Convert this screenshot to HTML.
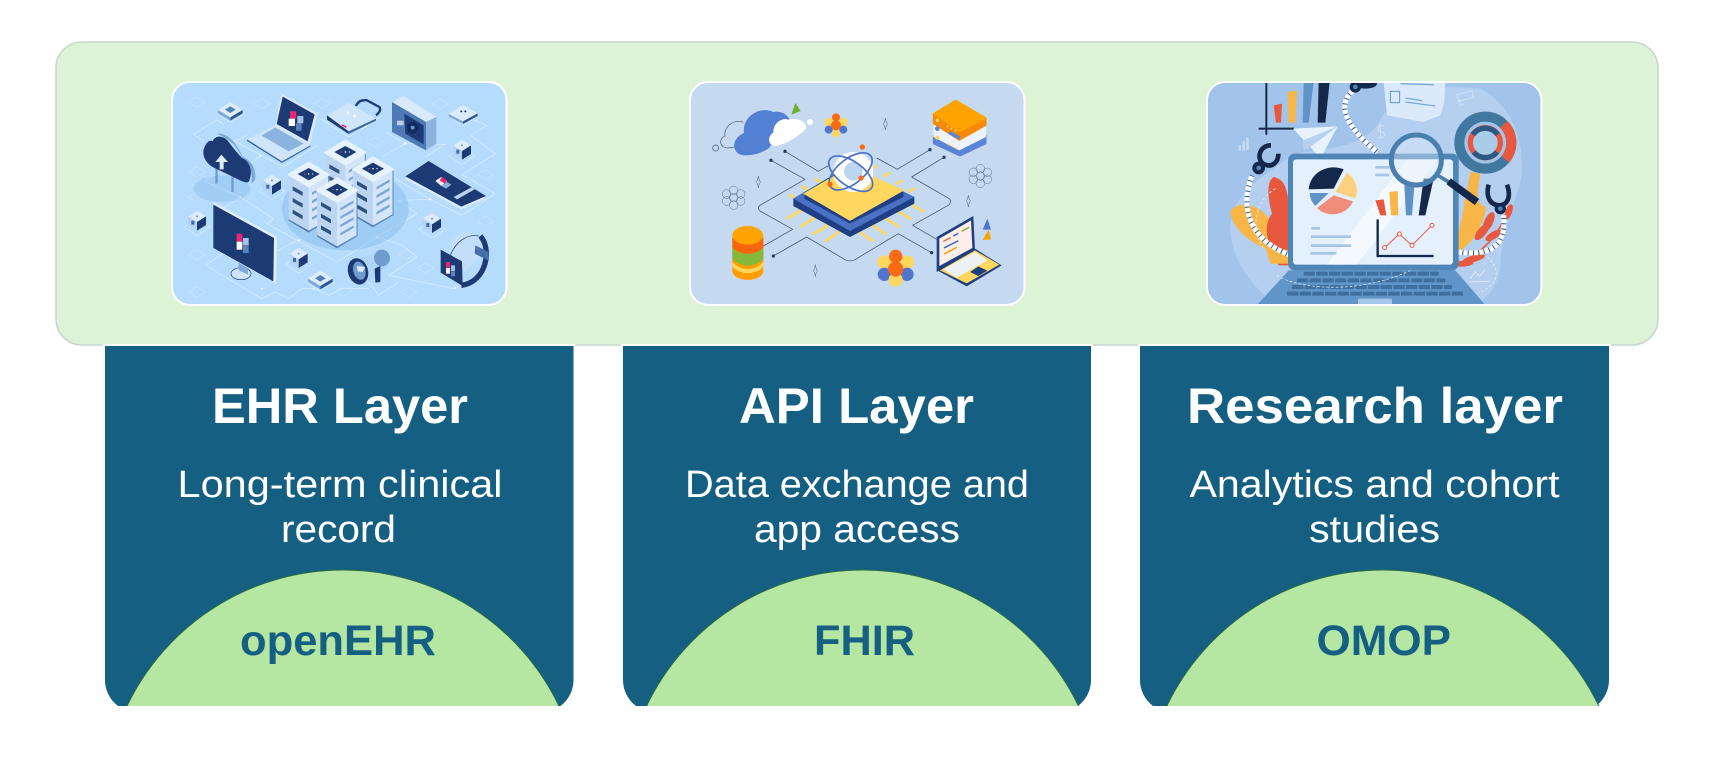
<!DOCTYPE html>
<html><head><meta charset="utf-8"><style>
html,body{margin:0;padding:0;background:#fff;width:1716px;height:764px;overflow:hidden}
svg{display:block}
text{font-family:"Liberation Sans",sans-serif}
.soft{filter:blur(.45px)}
</style></head><body>
<svg width="1716" height="764" viewBox="0 0 1716 764" xmlns="http://www.w3.org/2000/svg">
<defs>
<clipPath id="c1"><rect x="172" y="82" width="334.500" height="223" rx="18"/></clipPath>
<clipPath id="c2"><rect x="690" y="82" width="334.500" height="223" rx="18"/></clipPath>
<clipPath id="c3"><rect x="1207" y="82" width="334.500" height="223" rx="18"/></clipPath>
<g id="tower">
<polygon points="-60,42 0,75 0,212 -60,178" fill="#bcd6f2"/>
<polygon points="0,75 60,42 60,178 0,212" fill="#d3e6f9"/>
<polygon points="0,208 60,174 60,178 0,214" fill="#5f88bd"/>
<polygon points="-60,174 0,208 0,214 -60,178" fill="#4f78b0"/>
<line x1="60" y1="42" x2="60" y2="178" stroke="#5f88bd" stroke-width="3"/>
<polygon points="-60,40 0,4 60,40 0,75" fill="#e6f2fc" stroke="#e6f2fc" stroke-width="6" stroke-linejoin="round"/>
<polygon points="-33,38 0,20 33,38 0,57" fill="#1c3a73"/>
<g fill="#ea5a8a"><circle cx="-12" cy="38" r="2"/></g><g fill="#dbeafa"><circle cx="0" cy="38" r="2.500"/><circle cx="12" cy="38" r="2"/></g>
<g fill="#31527f"><polygon points="-48,75 -18,92 -18,104 -48,87"/><polygon points="-48,110 -18,127 -18,139 -48,122"/><polygon points="-48,145 -18,162 -18,174 -48,157"/></g>
<g fill="#7fa6d3"><polygon points="10,93 50,70 50,78 10,101"/><polygon points="10,118 50,95 50,103 10,126"/><polygon points="10,143 50,120 50,128 10,151"/><polygon points="10,168 50,145 50,153 10,176"/></g>
</g>
<g id="cube">
<polyline points="-40,22 0,48 40,22 0,-4 -40,22" fill="none" stroke="#e8f4ff" stroke-width="2" opacity=".65"/>
<polygon points="-27,-10 0,-27 27,-10 0,7" fill="#dcecfb"/>
<polygon points="-27,-10 0,7 0,33 -27,16" fill="#b6d3f1"/>
<polygon points="0,7 27,-10 27,16 0,33" fill="#1c3a73"/>
<rect x="-17" y="3" width="9" height="12" fill="#3f6aa5"/>
<circle cx="0" cy="-10" r="3" fill="#6e98c9"/>
</g>
<g id="chip">
<polyline points="-45,8 0,36 45,8" fill="none" stroke="#e8f4ff" stroke-width="2" opacity=".65"/>
<polygon points="-37,0 0,-24 37,0 0,22" fill="#dcecfb"/>
<polygon points="-37,0 0,22 0,32 -37,10" fill="#7ea8d8"/>
<polygon points="37,0 0,22 0,32 37,10" fill="#2f5590"/>
<polygon points="-16,-1 0,-11 16,-1 0,9" fill="#4f7fb9"/>
</g>
<g id="flow" fill="none" stroke="#41566f" stroke-width="1.200">
<circle cx="0" cy="-20" r="13"/><circle cx="21" cy="-9" r="13"/><circle cx="21" cy="12" r="13"/><circle cx="0" cy="24" r="13"/><circle cx="-21" cy="12" r="13"/><circle cx="-21" cy="-9" r="13"/><circle cx="0" cy="2" r="13"/>
</g>
<path id="spark" d="M0,-18 Q2,-3 7,0 Q2,3 0,18 Q-2,3 -7,0 Q-2,-3 0,-18Z" fill="none" stroke="#41566f" stroke-width="1.500"/>
</defs>

<!-- top panel -->
<rect x="56" y="42" width="1602" height="303" rx="26" fill="#ddf3d6" stroke="#c9d6cf" stroke-width="1.600"/>

<!-- image 1 -->
<g clip-path="url(#c1)"><rect x="172" y="82" width="335" height="223" fill="#b5dcfd"/>
<g class="soft" transform="translate(172 82) scale(.33333)">
<g fill="none" stroke="#eaf5ff" stroke-width="2" opacity=".8">
<polyline points="65,157 135,113 155,128"/><polyline points="65,157 97,178"/>
<polyline points="190,178 335,255 435,190"/><polyline points="190,178 225,160"/><polyline points="265,222 225,252"/>
<polyline points="97,298 205,345 145,385"/><polyline points="97,298 130,280"/>
<polyline points="205,345 305,410 285,425 495,540 615,465 735,395 680,355 775,352 870,400 970,335 870,278 970,215 895,160 945,130 898,112"/>
<polyline points="670,290 775,352"/>
<polyline points="640,150 700,185 820,187 760,225"/><polyline points="700,185 630,225"/>
<polyline points="445,110 530,165 632,100"/>
<polyline points="100,550 270,650 310,630 350,650 390,620 425,620 470,640 510,620 590,620"/>
<polyline points="100,550 160,510"/>
<polyline points="615,465 690,490 735,525 650,580 845,620 950,570"/>
<polyline points="590,600 620,640 680,600"/>
<polyline points="375,475 310,510 285,495"/>
<g stroke-width="1.500" opacity=".7">
<polygon points="48,60 75,45 100,60 75,75"/><polygon points="245,65 270,50 295,65 270,80"/><polygon points="425,65 450,50 475,65 450,80"/><polygon points="780,65 805,50 830,65 805,80"/>
<polygon points="48,270 75,255 100,270 75,285"/><polygon points="48,345 75,330 100,345 75,360"/><polygon points="48,518 75,503 100,518 75,533"/><polygon points="48,630 75,615 100,630 75,645"/>
<polygon points="915,278 940,263 965,278 940,293"/><polygon points="915,418 940,403 965,418 940,433"/><polygon points="680,518 705,503 730,518 705,533"/><polygon points="735,558 760,543 785,558 760,573"/>
<polygon points="490,628 515,613 540,628 515,643"/><polygon points="685,630 710,615 735,630 710,645"/><polygon points="585,180 610,165 635,180 610,195"/>
</g></g>
<g fill="#fff"><circle cx="265" cy="222" r="3"/><circle cx="205" cy="345" r="3"/><circle cx="380" cy="475" r="3"/><circle cx="615" cy="465" r="3"/><circle cx="775" cy="352" r="3"/><circle cx="700" cy="185" r="3"/><circle cx="270" cy="620" r="3"/><circle cx="425" cy="620" r="3"/><circle cx="850" cy="618" r="3"/><circle cx="582" cy="133" r="3"/></g>
<ellipse cx="150" cy="320" rx="85" ry="40" fill="#86b8e8" opacity=".4"/>
<ellipse cx="520" cy="380" rx="190" ry="125" fill="#86b8e8" opacity=".45"/>
<use href="#chip" x="175" y="84"/><use href="#chip" x="445" y="590"/>
<g transform="translate(873 92)"><polyline points="-45,10 0,38 45,10" fill="none" stroke="#e8f4ff" stroke-width="2" opacity=".65"/><polygon points="-43,4 0,-22 44,2 0,26" fill="#dcecfb"/><polygon points="-43,4 0,26 0,34 -43,12" fill="#7ea8d8"/><polygon points="44,2 0,26 0,34 44,10" fill="#2f5590"/><circle cx="-5" cy="-4" r="3" fill="#1c3a73"/><circle cx="7" cy="-4" r="3" fill="#1c3a73"/></g>
<use href="#cube" x="870" y="200"/><use href="#cube" x="300" y="305"/><use href="#cube" x="75" y="413"/><use href="#cube" x="780" y="420"/><use href="#cube" x="380" y="525"/>
<!-- laptop -->
<polygon points="328,35 437,95 413,187 310,130" fill="#dbeafa"/>
<polygon points="332,44 428,97 407,178 314,126" fill="#1c3a73"/>
<rect x="354" y="88" width="19" height="22" fill="#ea2472"/><rect x="376" y="102" width="18" height="22" fill="#a4c3e4"/><rect x="350" y="110" width="19" height="22" fill="#fff"/><rect x="372" y="124" width="17" height="22" fill="#5b84bd"/>
<polygon points="225,172 310,130 415,190 330,238" fill="#cfe5fa"/>
<polygon points="268,160 310,137 395,185 350,208" fill="#8bb3df"/>
<polygon points="225,172 330,238 415,190 415,194 330,243 225,177" fill="#3e669f"/>
<!-- lock -->
<path d="M552,72 Q560,52 585,55 L622,75 Q630,85 612,100" fill="none" stroke="#1c3a73" stroke-width="7"/>
<polygon points="465,100 530,62 612,110 530,148" fill="#cfe5fa"/>
<polygon points="465,100 530,148 530,156 465,113" fill="#1c3a73"/>
<polygon points="530,148 612,110 612,116 530,156" fill="#3e669f"/>
<rect x="510" y="130" width="14" height="5" fill="#ea2472" transform="rotate(30 517 132)"/>
<circle cx="528" cy="92" r="4" fill="#fff"/><circle cx="548" cy="102" r="4" fill="#fff"/>
<!-- camera -->
<polygon points="660,60 695,42 793,105 762,120" fill="#d9eafb"/>
<polygon points="660,60 762,120 762,205 660,150" fill="#4f79b5"/>
<polygon points="762,120 793,105 793,185 762,205" fill="#8cb2dd"/>
<polygon points="697,95 755,130 755,187 700,155" fill="#1c3a73"/>
<circle cx="722" cy="137" r="17" fill="#0e2a5e"/><circle cx="722" cy="137" r="6" fill="#6b92c6"/>
<rect x="675" y="116" width="20" height="14" fill="#b7cfec"/>
<!-- phone -->
<polygon points="698,290 770,242 942,350 868,382" fill="#dcecfb"/>
<polygon points="700,283 770,237 942,342 868,374" fill="#1c3a73"/>
<polygon points="790,297 808,285 825,298 808,312" fill="#fff"/><polygon points="810,285 825,295 818,305 803,295" fill="#ea2472"/><polygon points="808,312 825,300 838,308 822,320" fill="#8db3db"/>
<polygon points="845,345 900,315 908,322 855,352" fill="#b7d3ef"/>
<!-- cloud -->
<polygon points="130,258 137,258 137,305 130,305" fill="#6f9ccf"/><polygon points="178,285 185,285 185,330 178,330" fill="#6f9ccf"/>
<path d="M135,155 C170,150 200,195 212,225 C240,235 255,265 248,295 L238,305 C245,265 225,240 210,228 C195,190 170,170 135,155Z" fill="#7aa6d8"/>
<path d="M128,258 C100,245 85,215 100,190 C108,175 118,175 122,178 C128,160 155,158 170,180 C185,200 198,215 210,228 C235,238 243,270 232,295 C230,305 218,302 200,293Z" fill="#1c3a73"/>
<path d="M143,262 V240 H130 L148,218 L168,240 H155 V262Z" fill="#dcecfb"/>
<!-- servers -->
<use href="#tower" x="520" y="172"/><use href="#tower" x="410" y="238"/><use href="#tower" x="603" y="222"/><use href="#tower" x="495" y="285"/>
<!-- monitor -->
<ellipse cx="207" cy="575" rx="30" ry="18" fill="#cfe5fa" stroke="#1c3a73" stroke-width="2"/>
<polygon points="200,540 228,555 228,578 200,565" fill="#7ea8d8"/>
<polygon points="125,360 315,465 312,605 125,500" fill="#e0effc"/>
<polygon points="124,368 306,468 304,598 124,498" fill="#1c3a73"/>
<rect x="194" y="455" width="17" height="24" fill="#ea2472"/><rect x="213" y="468" width="17" height="22" fill="#a4c3e4"/><rect x="194" y="479" width="17" height="24" fill="#fff"/><rect x="213" y="491" width="17" height="22" fill="#5b84bd"/>
<!-- megaphone -->
<polygon points="560,530 625,505 655,520 650,552 590,600" fill="#b0d5f7"/>
<ellipse cx="630" cy="528" rx="24" ry="25" fill="#6f9bd0"/>
<polygon points="608,560 625,552 625,600 610,602" fill="#1c3a73"/>
<ellipse cx="558" cy="568" rx="30" ry="40" fill="#1c3a73" transform="rotate(-15 558 568)"/>
<ellipse cx="562" cy="566" rx="18" ry="28" fill="#6f9bd0" transform="rotate(-15 562 566)"/>
<polygon points="555,552 580,555 572,570 557,568" fill="#dcecfb"/>
<!-- watch -->
<path d="M830,510 C835,460 880,440 915,460 L945,478 L945,500 L880,570Z" fill="#c2def8"/>
<path d="M868,610 C945,600 960,500 925,462" fill="none" stroke="#1c3a73" stroke-width="16"/>
<path d="M835,520 C850,480 885,455 920,462" fill="none" stroke="#1c3a73" stroke-width="2"/>
<polygon points="910,490 950,510 948,535 908,515" fill="#496fa8"/>
<polygon points="806,503 870,538 872,612 806,572" fill="#1c3a73"/>
<rect x="822" y="540" width="12" height="17" fill="#ea2472"/><rect x="837" y="550" width="12" height="17" fill="#a4c3e4"/><rect x="822" y="558" width="12" height="17" fill="#fff"/><rect x="837" y="568" width="12" height="15" fill="#5b84bd"/>
</g></g>
<rect x="172" y="82" width="334.500" height="223" rx="18" fill="none" stroke="#fff" stroke-width="2"/>

<!-- image 2 -->
<g clip-path="url(#c2)"><rect x="690" y="82" width="335" height="223" fill="#c5daf1"/>
<g class="soft" transform="translate(690 82) scale(.33333)">
<g fill="none" stroke="#41566f" stroke-width="2.300" stroke-linejoin="round">
<path d="M285,208 L385,268 L420,248"/>
<path d="M243,235 L345,292 L210,370 Q200,378 210,387 L308,442 L220,492"/>
<path d="M250,522 L350,465 L465,533 Q480,540 495,533 L625,455 L725,512"/>
<path d="M560,228 L622,262 L720,203"/>
<path d="M762,226 L665,285 L778,350 Q785,358 778,368 L668,430 L740,472"/>
</g>
<g fill="#23405f"><circle cx="285" cy="208" r="5"/><circle cx="243" cy="235" r="5"/><circle cx="250" cy="522" r="5"/><circle cx="725" cy="512" r="5"/><circle cx="720" cy="203" r="5"/><circle cx="762" cy="226" r="5"/></g>
<path d="M160,120 C125,110 100,140 105,162 C85,170 88,198 115,198 L145,193" fill="none" stroke="#41566f" stroke-width="2"/>
<circle cx="77" cy="198" r="9" fill="none" stroke="#41566f" stroke-width="2"/>
<path d="M165,220 C125,220 120,170 162,153 C155,105 210,70 250,90 C275,85 295,100 302,118 L235,200 C210,215 190,220 165,220Z" fill="#5480d3"/>
<path d="M255,192 C235,190 230,165 250,152 C248,125 275,105 295,113 C320,105 352,120 348,140 C330,160 285,190 255,192Z" fill="#fff"/>
<circle cx="360" cy="120" r="9" fill="#fff"/>
<polygon points="316,63 332,87 304,98" fill="#6fb030"/>
<g transform="translate(438 130)"><circle cx="-22" cy="-10" r="13" fill="#ffd75e"/><circle cx="22" cy="-10" r="13" fill="#ffd75e"/><circle cx="-22" cy="13" r="12" fill="#4f76cc"/><circle cx="22" cy="13" r="12" fill="#4f76cc"/><circle cx="0" cy="24" r="12" fill="#ffd75e"/><circle cx="0" cy="-24" r="12" fill="#f86a14"/><circle cx="0" cy="0" r="15" fill="#f86a14"/></g>
<!-- server -->
<polygon points="730,160 808,200 888,160 888,185 810,222 730,185" fill="#5b84d6" stroke="#5b84d6" stroke-width="3" stroke-linejoin="round"/>
<polygon points="730,125 808,175 888,130 888,165 808,205 730,165" fill="#eef2fa"/>
<polygon points="730,95 808,150 888,108 888,130 808,175 730,125" fill="#f58a07" stroke="#f58a07" stroke-width="3" stroke-linejoin="round"/>
<polygon points="733,95 797,56 886,108 808,148" fill="#ffa300" stroke="#ffa300" stroke-width="6" stroke-linejoin="round"/>
<circle cx="742" cy="115" r="5" fill="#ffd75e"/>
<g fill="#ffd75e"><circle cx="772" cy="133" r="3"/><circle cx="784" cy="140" r="3"/><circle cx="796" cy="146" r="3"/><circle cx="775" cy="187" r="3"/><circle cx="787" cy="193" r="3"/><circle cx="799" cy="199" r="3"/></g>
<circle cx="742" cy="140" r="7" fill="#5b84d6"/><circle cx="742" cy="167" r="6" fill="#ffd75e"/>
<g fill="#5b84d6"><rect x="775" y="155" width="36" height="10" transform="rotate(28 793 160)"/></g>
<!-- chip legs -->
<g fill="none" stroke="#ffd75e" stroke-width="8" stroke-linejoin="round">
<polyline points="290,410 330,388 328,375"/><polyline points="330,435 370,410 368,397"/><polyline points="368,457 410,433 408,420"/><polyline points="405,478 445,452 443,440"/>
<polyline points="550,478 510,452 512,440"/><polyline points="588,457 548,430 548,418"/><polyline points="627,435 585,408 587,395"/><polyline points="665,412 622,388 622,375"/><polyline points="702,390 660,365 660,352"/>
<line x1="298" y1="338" x2="320" y2="350"/><line x1="335" y1="313" x2="357" y2="325"/><line x1="375" y1="290" x2="397" y2="302"/>
<line x1="675" y1="318" x2="655" y2="330"/><line x1="637" y1="295" x2="617" y2="307"/><line x1="600" y1="272" x2="580" y2="284"/><line x1="562" y1="250" x2="545" y2="262"/>
</g>
<!-- chip -->
<polygon points="310,350 478,250 673,345 673,365 480,465 310,372" fill="#1f3f83"/>
<polygon points="310,350 478,255 673,345 480,447" fill="#4a71c6"/>
<polygon points="343,340 480,258 640,330 640,345 480,425 343,350" fill="#1f3f83"/>
<polygon points="343,335 480,255 640,325 480,415" fill="#ffd75e" stroke="#ffd75e" stroke-width="3" stroke-linejoin="round"/>
<!-- sphere -->
<circle cx="490" cy="270" r="60" fill="#fff"/><circle cx="490" cy="268" r="28" fill="#bcd6f1"/>
<g fill="none" stroke="#4a71c6" stroke-width="5"><ellipse cx="482" cy="268" rx="76" ry="38" transform="rotate(-38 482 268)"/><ellipse cx="482" cy="275" rx="76" ry="37" transform="rotate(35 482 275)"/></g>
<circle cx="517" cy="195" r="8" fill="#f86a14"/><circle cx="513" cy="288" r="8" fill="#f86a14"/><circle cx="420" cy="307" r="8" fill="#f86a14"/>
<!-- database -->
<path d="M127,462 V565 C127,603 220,603 220,565 V462Z" fill="#ff9d00"/>
<path d="M127,495 C150,522 198,522 220,495 V530 C198,558 150,558 127,530Z" fill="#84b83a"/>
<path d="M127,465 C150,495 198,495 220,465 V495 C198,522 150,522 127,495Z" fill="#f8650e"/>
<path d="M127,540 C150,568 198,568 220,540 V553 C198,580 150,580 127,553Z" fill="#ffd75e"/>
<ellipse cx="173" cy="460" rx="46" ry="28" fill="#ffa300"/>
<!-- flower large -->
<g transform="translate(617 555)"><circle cx="-34" cy="-14" r="21" fill="#ffd75e"/><circle cx="34" cy="-14" r="21" fill="#ffd75e"/><circle cx="-34" cy="22" r="20" fill="#4f76cc"/><circle cx="34" cy="22" r="20" fill="#4f76cc"/><circle cx="0" cy="38" r="21" fill="#ffd75e"/><circle cx="0" cy="-32" r="20" fill="#f86a14"/><circle cx="0" cy="6" r="23" fill="#f86a14"/></g>
<use href="#flow" x="131" y="345"/><use href="#flow" x="871" y="280"/>
<use href="#spark" x="586" y="126"/><use href="#spark" x="205" y="300"/><use href="#spark" x="835" y="357"/><use href="#spark" x="376" y="566"/>
<!-- laptop -->
<polygon points="740,465 850,402 855,505 740,570" fill="#1f3f83"/>
<polygon points="748,470 843,415 847,498 748,552" fill="#fdeee9"/>
<g stroke-width="4"><line x1="760" y1="478" x2="782" y2="467" stroke="#e95a36"/><line x1="790" y1="462" x2="805" y2="454" stroke="#2e5ac0"/><line x1="815" y1="448" x2="838" y2="436" stroke="#79a92b"/><line x1="762" y1="498" x2="805" y2="476" stroke="#2e5ac0"/><line x1="762" y1="516" x2="800" y2="496" stroke="#e99c00"/></g>
<polygon points="742,565 855,500 935,550 830,613" fill="#1f3f83"/>
<polygon points="750,565 855,505 928,548 830,604" fill="#ffd75e"/>
<polygon points="760,562 855,510 892,535 800,587" fill="#eef2f8"/>
<polygon points="840,570 865,553 892,566 865,582" fill="#1f3f83"/>
<polygon points="892,410 903,443 878,443" fill="#4f76cc"/><polygon points="896,443 903,472 878,474" fill="#ffa300"/>
</g></g>
<rect x="690" y="82" width="334.500" height="223" rx="18" fill="none" stroke="#fff" stroke-width="2"/>

<!-- image 3 -->
<g clip-path="url(#c3)"><rect x="1207" y="82" width="335" height="223" fill="#a3c4ea"/>
<g class="soft" transform="translate(1207 82) scale(.33333)">
<path d="M70,430 C80,330 160,290 240,230 C300,190 440,220 510,130 C560,40 620,0 820,20 C920,70 960,200 940,300 C910,400 880,470 880,560 C870,620 830,660 800,669 H200 C120,590 70,530 70,430Z" fill="#b4cfef"/>
<polygon points="530,0 715,0 712,60 700,100 650,120 540,100" fill="#dbeafa"/>
<rect x="550" y="28" width="28" height="34" fill="none" stroke="#5f93c6" stroke-width="3"/>
<g stroke="#7aa8d6" stroke-width="4"><line x1="595" y1="48" x2="645" y2="56"/><line x1="595" y1="60" x2="685" y2="72"/><line x1="580" y1="5" x2="680" y2="8"/></g>
<g stroke="#cfe1f5" stroke-width="3" fill="none"><rect x="752" y="32" width="46" height="20" transform="rotate(-15 775 42)"/><polyline points="758,52 760,70 772,68"/><path d="M530,130 C505,130 510,150 525,150 C540,155 535,170 512,165 M520,125 V172"/></g>
<g fill="#c8dcf3"><rect x="95" y="190" width="7" height="16"/><rect x="107" y="178" width="7" height="28"/><rect x="118" y="166" width="7" height="38"/></g>
<g stroke="#14284b" stroke-width="6"><line x1="178" y1="0" x2="178" y2="158"/><line x1="155" y1="140" x2="262" y2="140"/></g>
<polygon points="200,70 225,65 222,122 207,122" fill="#e8583f"/>
<polygon points="242,30 270,25 265,122 245,122" fill="#f8b646"/>
<polygon points="290,0 320,0 305,122 287,122" fill="#5f93c6"/>
<polygon points="335,0 368,0 355,122 332,122" fill="#14284b"/>
<polygon points="258,140 392,133 340,230 310,195" fill="#e7f2fd"/><polygon points="392,133 310,195 290,205 288,175" fill="#b6d2f0"/>
<path d="M70,390 C90,350 170,370 190,420 C205,470 190,500 175,500 C130,480 75,440 70,390Z" fill="#f8b646"/>
<path d="M200,285 C245,295 240,340 250,400 V550 H215 C190,500 160,440 195,395 C185,360 175,300 200,285Z" fill="#e8583f"/>
<polygon points="175,495 250,505 250,545 190,545" fill="#f8b646"/>
<path d="M790,270 L820,275 C810,330 805,370 838,375 C830,430 790,500 745,510Z" fill="#f8b646"/>
<path d="M905,375 C880,460 820,520 745,548" fill="none" stroke="#e8583f" stroke-width="5"/>
<ellipse cx="845" cy="420" rx="32" ry="13" fill="#e8583f" transform="rotate(-65 845 420)"/><ellipse cx="825" cy="450" rx="30" ry="13" fill="#e8583f" transform="rotate(-50 825 450)"/><ellipse cx="860" cy="460" rx="28" ry="11" fill="#e8583f" transform="rotate(-30 860 460)"/><ellipse cx="800" cy="530" rx="35" ry="10" fill="#e8583f" transform="rotate(-15 800 530)"/><ellipse cx="905" cy="390" rx="25" ry="10" fill="#e8583f" transform="rotate(-70 905 390)"/><ellipse cx="770" cy="545" rx="30" ry="9" fill="#e8583f" transform="rotate(-5 770 545)"/>
<g fill="none"><path d="M440,25 C395,60 400,120 510,210" stroke="#fff" stroke-width="15"/><path d="M440,25 C395,60 400,120 510,210" stroke="#2c5a84" stroke-width="15" stroke-dasharray="3 13"/>
<path d="M135,280 C100,370 120,470 250,520" stroke="#fff" stroke-width="15"/><path d="M135,280 C100,370 120,470 250,520" stroke="#2c5a84" stroke-width="15" stroke-dasharray="3 13"/>
<path d="M750,510 C830,520 900,510 890,400" stroke="#fff" stroke-width="15"/><path d="M750,510 C830,520 900,510 890,400" stroke="#2c5a84" stroke-width="15" stroke-dasharray="3 13"/></g>
<ellipse cx="475" cy="5" rx="35" ry="15" fill="#14284b"/><circle cx="445" cy="15" r="17" fill="#14284b"/><circle cx="445" cy="15" r="7" fill="#4f84b6"/>
<path d="M192,190 C155,190 147,235 172,247 C195,258 215,240 214,215" fill="none" stroke="#14284b" stroke-width="14"/>
<circle cx="155" cy="258" r="19" fill="#14284b"/><circle cx="155" cy="258" r="7" fill="#4f84b6"/>
<polygon points="245,565 745,565 835,669 150,669" fill="#5f95c8"/>
<g stroke="#3f6f9e" stroke-width="12" stroke-dasharray="34 4"><line x1="290" y1="575" x2="695" y2="575"/><line x1="270" y1="595" x2="715" y2="595"/><line x1="255" y1="615" x2="735" y2="615"/><line x1="240" y1="635" x2="770" y2="635"/></g>
<rect x="453" y="650" width="102" height="20" rx="5" fill="#a5c8ea"/>
<path d="M210,580 C280,625 480,640 640,550" fill="none" stroke="#e8f3fd" stroke-width="2" stroke-dasharray="8 6"/>
<rect x="243" y="215" width="512" height="350" rx="20" fill="#4f86b8"/>
<rect x="258" y="232" width="480" height="316" rx="10" fill="#e4f0fc"/>
<polygon points="360,548 600,232 690,232 450,548" fill="#f3f9fe"/>
<path d="M380,320 L410,262 A75,70 0 0 0 305,322Z" fill="#14284b"/>
<path d="M385,330 L420,272 A68,66 0 0 1 445,350Z" fill="#fbd07e"/>
<path d="M380,340 L438,358 A65,60 0 0 1 330,378Z" fill="#f08d7a"/>
<path d="M365,333 L308,333 A65,62 0 0 0 325,372Z" fill="#5f93c6"/>
<g fill="#a5c4e6"><rect x="313" y="435" width="26" height="8"/><rect x="312" y="460" width="120" height="8"/><rect x="312" y="487" width="120" height="8"/><rect x="310" y="510" width="78" height="8"/><rect x="505" y="252" width="42" height="8"/><rect x="505" y="275" width="42" height="8"/></g>
<polygon points="505,355 530,352 538,400 520,400" fill="#e8583f"/>
<polygon points="547,330 572,327 574,400 552,400" fill="#f8b646"/>
<polygon points="592,310 622,310 615,400 597,400" fill="#5f93c6"/>
<polygon points="650,290 680,290 655,400 635,400" fill="#14284b"/>
<polyline points="512,412 512,522 680,522" fill="none" stroke="#14284b" stroke-width="7"/>
<polyline points="533,497 577,456 615,490 675,430" fill="none" stroke="#e8583f" stroke-width="3"/>
<g fill="#fff" stroke="#e8583f" stroke-width="3"><circle cx="533" cy="497" r="6"/><circle cx="577" cy="456" r="6"/><circle cx="615" cy="490" r="6"/><circle cx="675" cy="430" r="6"/></g>
<line x1="692" y1="280" x2="725" y2="300" stroke="#4a7fae" stroke-width="11"/>
<line x1="725" y1="298" x2="810" y2="360" stroke="#14284b" stroke-width="22"/>
<circle cx="628" cy="234" r="75" fill="#e4f0fc" fill-opacity=".4" stroke="#4a7fae" stroke-width="15"/>
<path d="M845,308 C835,345 850,368 875,370 C905,370 912,340 900,308" fill="none" stroke="#14284b" stroke-width="14"/>
<circle cx="880" cy="380" r="17" fill="#14284b"/><circle cx="880" cy="380" r="7" fill="#4f84b6"/>
<circle cx="835" cy="182" r="78" fill="#a3c4ea" stroke="#41789f" stroke-width="30"/>
<path d="M890,127 A78,78 0 0 1 895,232" fill="none" stroke="#e8583f" stroke-width="30"/>
<circle cx="835" cy="182" r="45" fill="#a9cce8" stroke="#e8583f" stroke-width="16"/>
<path d="M798,158 A45,45 0 0 1 872,158 M800,210 A45,45 0 0 0 870,210" fill="none" stroke="#2c5a84" stroke-width="16"/>
<circle cx="835" cy="182" r="29" fill="#a9cce8"/>
<g fill="none" stroke="#dbe9f8" stroke-width="3"><polyline points="785,600 850,598"/><polyline points="790,590 805,570 818,582 835,562"/><path d="M840,525 C885,560 875,610 815,632" stroke-dasharray="8 6"/><path d="M205,320 C140,360 130,450 170,500" stroke-dasharray="8 6"/></g>
</g></g>
<rect x="1207" y="82" width="334.500" height="223" rx="18" fill="none" stroke="#fff" stroke-width="2"/>

<!-- white halo over panel border -->
<rect x="103" y="344" width="472.500" height="3" fill="#fff"/>
<rect x="620.700" y="344" width="472.300" height="3" fill="#fff"/>
<rect x="1138" y="344" width="473" height="3" fill="#fff"/>

<!-- cards (square top, rounded bottom cut at y=706) -->
<path d="M105,346 H573.500 V680 A32.500,32.500 0 0 1 560.500,706 H118 A32.500,32.500 0 0 1 105,680 Z" fill="#156082"/>
<path d="M623,346 H1091 V680 A32.500,32.500 0 0 1 1078,706 H636 A32.500,32.500 0 0 1 623,680 Z" fill="#156082"/>
<path d="M1140,346 H1609 V680 A32.500,32.500 0 0 1 1596,706 H1153 A32.500,32.500 0 0 1 1140,680 Z" fill="#156082"/>
<path d="M127,706 A239.500,239.500 0 0 1 559,706 Z" fill="#b5e6a2"/>
<path d="M646.500,706 A239.500,239.500 0 0 1 1078.500,706 Z" fill="#b5e6a2"/>
<path d="M1166.800,706 A239.500,239.500 0 0 1 1598.800,706 Z" fill="#b5e6a2"/>
<g fill="none" stroke="#2a6a45" stroke-width="1">
<path d="M127,706 A239.500,239.500 0 0 1 559,706"/><path d="M646.500,706 A239.500,239.500 0 0 1 1078.500,706"/><path d="M1166.800,706 A239.500,239.500 0 0 1 1598.800,706"/>
</g>

<!-- text -->
<g fill="#fff" font-weight="700" font-size="50">
<text x="212" y="423" textLength="256" lengthAdjust="spacingAndGlyphs">EHR Layer</text>
<text x="739" y="423" textLength="235" lengthAdjust="spacingAndGlyphs">API Layer</text>
<text x="1187" y="423" textLength="376" lengthAdjust="spacingAndGlyphs">Research layer</text>
</g>
<g fill="#fff" font-size="38">
<text x="177.500" y="497" textLength="325" lengthAdjust="spacingAndGlyphs">Long-term clinical</text>
<text x="281" y="542" textLength="115" lengthAdjust="spacingAndGlyphs">record</text>
<text x="685" y="497" textLength="344" lengthAdjust="spacingAndGlyphs">Data exchange and</text>
<text x="754" y="542" textLength="206" lengthAdjust="spacingAndGlyphs">app access</text>
<text x="1189.500" y="497" textLength="370" lengthAdjust="spacingAndGlyphs">Analytics and cohort</text>
<text x="1309" y="542" textLength="131" lengthAdjust="spacingAndGlyphs">studies</text>
</g>
<g fill="#156082" font-weight="700" font-size="43">
<text x="240" y="655" textLength="196" lengthAdjust="spacingAndGlyphs">openEHR</text>
<text x="814" y="655" textLength="101" lengthAdjust="spacingAndGlyphs">FHIR</text>
<text x="1316.500" y="655" textLength="134.500" lengthAdjust="spacingAndGlyphs">OMOP</text>
</g>
</svg>
</body></html>
